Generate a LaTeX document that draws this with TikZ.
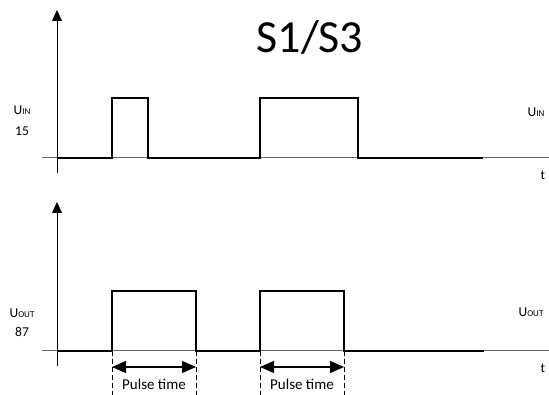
\documentclass[tikz,border=0pt]{standalone}
\usepackage{fontspec}
\setmainfont{Carlito}
\usetikzlibrary{arrows.meta}

\newcommand{\lbl}{\fontsize{13.5}{13.5}\selectfont}
\newcommand{\smallcap}[1]{{\fontsize{9}{9}\selectfont #1}}

\begin{document}
\begin{tikzpicture}[x=1pt, y=-1pt,
    every node/.style={inner sep=0pt, font=\lbl},
    signal/.style={line width=2.8pt, line join=miter},
    axis/.style={line width=0.9pt, -{Triangle[length=11pt,width=10pt]}},
    base/.style={line width=1pt, draw=black!60},
    guide/.style={line width=0.8pt, dash pattern=on 5pt off 3pt},
    span/.style={line width=1.2pt, {Triangle[length=14pt,width=12pt]}-{Triangle[length=14pt,width=12pt]}}]
    \useasboundingbox (0,0) rectangle (549,395);

    % upper plot (input)
    \coordinate (inbot) at (57,173);
    \coordinate (intop) at (57,10);
    \coordinate (inleft) at (42,158);
    \coordinate (inright) at (549,158);
    \draw [base] (inleft) -- (inright);
    \draw [axis] (inbot) -- (intop);
    \draw [signal] (57,158) -- (112,158) -- (112,98) -- (148,98) -- (148,158)
        -- (260,158) -- (260,98) -- (358,98) -- (358,158) -- (483,158);

    \node at (310,38) (title) {\fontsize{46}{46}\selectfont S1/S3};
    \node at (22,110) (uin) {U\smallcap{IN}};
    \node at (22,131) (uinval) {15};
    \node at (536,112) (uinr) {U\smallcap{IN}};
    \node at (543,175) (tin) {t};

    % lower plot (output)
    \coordinate (outbot) at (57,366);
    \coordinate (outtop) at (57,202);
    \coordinate (outleft) at (42,351);
    \coordinate (outright) at (549,351);
    \draw [base] (outleft) -- (outright);
    \draw [axis] (outbot) -- (outtop);
    \draw [signal] (57,351) -- (112,351) -- (112,291) -- (196,291) -- (196,351)
        -- (260,351) -- (260,291) -- (344,291) -- (344,351) -- (484,351);

    \node at (22,313) (uout) {U\smallcap{OUT}};
    \node at (22,332) (uoutval) {87};
    \node at (531,312) (uoutr) {U\smallcap{OUT}};
    \node at (543,368) (tout) {t};

    % pulse time markers
    \coordinate (a1) at (112,351); \coordinate (a2) at (112,395);
    \coordinate (b1) at (196,351); \coordinate (b2) at (196,395);
    \coordinate (c1) at (260,351); \coordinate (c2) at (260,395);
    \coordinate (d1) at (344,351); \coordinate (d2) at (344,395);
    \draw [guide] (a1) -- (a2);
    \draw [guide] (b1) -- (b2);
    \draw [guide] (c1) -- (c2);
    \draw [guide] (d1) -- (d2);
    \draw [span] (112,367) -- (196,367);
    \draw [span] (260,367) -- (344,367);
    \node at (154,384) (pt1) {\fontsize{15}{15}\selectfont Pulse time};
    \node at (302,384) (pt2) {\fontsize{15}{15}\selectfont Pulse time};
\end{tikzpicture}
\end{document}
